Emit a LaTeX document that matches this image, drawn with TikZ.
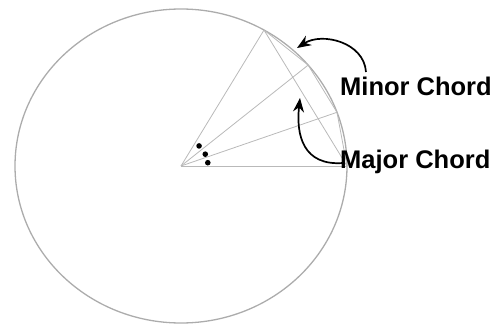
\documentclass[tikz,border=0pt]{standalone}
\usepackage{fontspec}
\setmainfont{Liberation Sans}
\usetikzlibrary{arrows.meta}

\begin{document}
\begin{tikzpicture}[>={Stealth[length=14pt,width=11pt]}, x=1pt, y=-1pt]
    \useasboundingbox (0,0) rectangle (501,324);

    % 圆与圆心
    \coordinate (O) at (181,166);
    \draw[gray!65, line width=1.3pt] (O) ellipse [x radius=166, y radius=157];

    % 圆上的点 (0, 20, 40, 60 度)
    \foreach \a in {0,20,40,60} {
        \path (O) ++({166*cos(\a)},{-157*sin(\a)}) coordinate (P\a);
        \draw[gray!55, line width=0.8pt] (O) -- (P\a);
    }

    % 大弦与小弦
    \draw[gray!55, line width=0.8pt] (P60) -- (P0);
    \draw[gray!55, line width=0.8pt] (P60) -- (P40) -- (P20) -- (P0);

    % 角度标记
    \foreach \a in {7,26,48} {
        \fill[black] (O) ++({27*cos(\a)},{-27*sin(\a)}) circle (2.8pt);
    }

    % 文字
    \node[anchor=base west, inner sep=0pt, font=\bfseries\fontsize{25.5}{25.5}\selectfont] (minor) at (340,95) {Minor Chord};
    \node[anchor=base west, inner sep=0pt, font=\bfseries\fontsize{25.5}{25.5}\selectfont] (major) at (340,168) {Major Chord};

    % 箭头
    \coordinate (minortail) at (366,72);
    \coordinate (minortip) at (297,48);
    \coordinate (majortail) at (343,163);
    \coordinate (majortip) at (300,98);
    \draw[->, black, line width=1.7pt] (minortail) .. controls (364,42) and (322,32) .. (minortip);
    \draw[->, black, line width=1.7pt] (majortail) .. controls (303,166) and (296,135) .. (majortip);
\end{tikzpicture}
\end{document}
